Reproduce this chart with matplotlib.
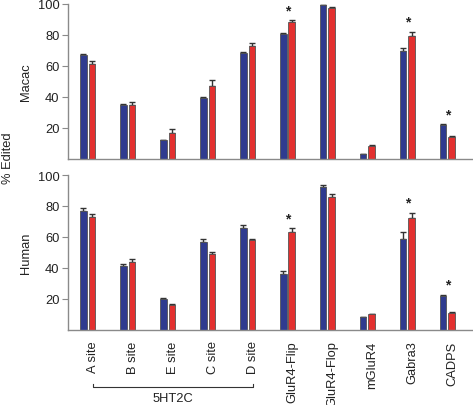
import matplotlib
matplotlib.use("Agg")
import matplotlib.pyplot as plt
import numpy as np
from matplotlib.transforms import blended_transform_factory

plt.rcParams['font.family'] = ['Liberation Sans', 'DejaVu Sans']

categories = ["A site", "B site", "E site", "C site", "D site",
              "GluR4-Flip", "GluR4-Flop", "mGluR4", "Gabra3", "CADPS"]

macac_blue = [67, 35, 12, 39, 68.5, 80.5, 99, 3, 69.5, 22]
macac_blue_err = [0.5, 0.5, 0.5, 1, 0.5, 1, 0.5, 0.5, 2, 0.5]
macac_red = [61, 35, 17, 47, 73, 88, 97.5, 8.5, 79, 14]
macac_red_err = [2, 1.5, 2, 4, 1.5, 1.5, 0.5, 0.5, 3, 0.5]
macac_sig = [5, 8, 9]

human_blue = [77, 41, 20, 57, 66, 36, 92.5, 8, 59, 22]
human_blue_err = [1.5, 1.5, 0.5, 1.5, 1.5, 2, 1, 0.5, 4, 0.7]
human_red = [73, 44, 16, 49, 58, 63, 86, 10, 72, 11]
human_red_err = [1.5, 2, 1, 1.5, 1, 2.5, 1.5, 0.5, 3.5, 0.5]
human_sig = [5, 8, 9]

group_label = "5HT2C"
group_members = [0, 4]

BLUE = "#2f3b8f"
RED = "#e3302f"
EDGE = "#555555"
SPINE = "#8a8a8a"
FS = 9.3

fig = plt.figure(figsize=(4.73, 4.06), dpi=100)
ax1 = fig.add_axes([0.1438, 0.606, 0.8562, 0.382])
ax2 = fig.add_axes([0.1438, 0.185, 0.8562, 0.3815])

x = np.arange(len(categories))
w = 0.16
off = 0.105
label_shift = 0.13


def draw(ax, blue, berr, red, rerr, sig, ylabel):
    n = len(blue)
    ax.errorbar(x - off, blue, yerr=[np.zeros(n), berr], fmt='none',
                ecolor="#333333", elinewidth=1.0, capsize=2.2, capthick=1.0, zorder=1)
    ax.errorbar(x + off, red, yerr=[np.zeros(n), rerr], fmt='none',
                ecolor="#333333", elinewidth=1.0, capsize=2.2, capthick=1.0, zorder=1)
    ax.bar(x - off, blue, width=w, color=BLUE, edgecolor=EDGE, linewidth=0.6, zorder=2)
    ax.bar(x + off, red, width=w, color=RED, edgecolor=EDGE, linewidth=0.6, zorder=2)
    for i in sig:
        top = max(blue[i] + berr[i], red[i] + rerr[i])
        ax.text(x[i], top + 6.5, "*", ha='center', va='center', fontsize=10,
                fontweight='bold', color="#222222")
    ax.set_ylim(0, 100)
    ax.set_xlim(-0.49, 9.64)
    ax.set_yticks([20, 40, 60, 80, 100])
    ax.tick_params(axis='y', labelsize=FS, length=4, width=0.8, color=SPINE, pad=2,
                   labelcolor="#222222")
    for s in ['top', 'right']:
        ax.spines[s].set_visible(False)
    for s in ['left', 'bottom']:
        ax.spines[s].set_color(SPINE)
        ax.spines[s].set_linewidth(1.0)
    ax.set_ylabel(ylabel, fontsize=FS, color="#222222", labelpad=4)


draw(ax1, macac_blue, macac_blue_err, macac_red, macac_red_err, macac_sig, "Macac")
draw(ax2, human_blue, human_blue_err, human_red, human_red_err, human_sig, "Human")

ax1.set_xticks([])
ax2.set_xticks(x + label_shift)
ax2.set_xticklabels(categories, rotation=90, fontsize=FS, color="#222222")
ax2.tick_params(axis='x', length=0, pad=7.5)

trans = blended_transform_factory(ax2.transData, ax2.transAxes)
x0 = group_members[0] + label_shift
x1 = group_members[1] + label_shift
ax2.plot([x0, x0, x1, x1], [-0.348, -0.368, -0.368, -0.348], transform=trans,
         color="#333333", lw=0.8, clip_on=False)
ax2.text((x0 + x1) / 2, -0.44, group_label, transform=trans, ha='center', va='center',
         fontsize=FS, color="#222222")

fig.text(0.016, 0.611, "% Edited", rotation=90, ha='center', va='center',
         fontsize=FS, color="#222222")

fig.savefig("out.png", dpi=100)
